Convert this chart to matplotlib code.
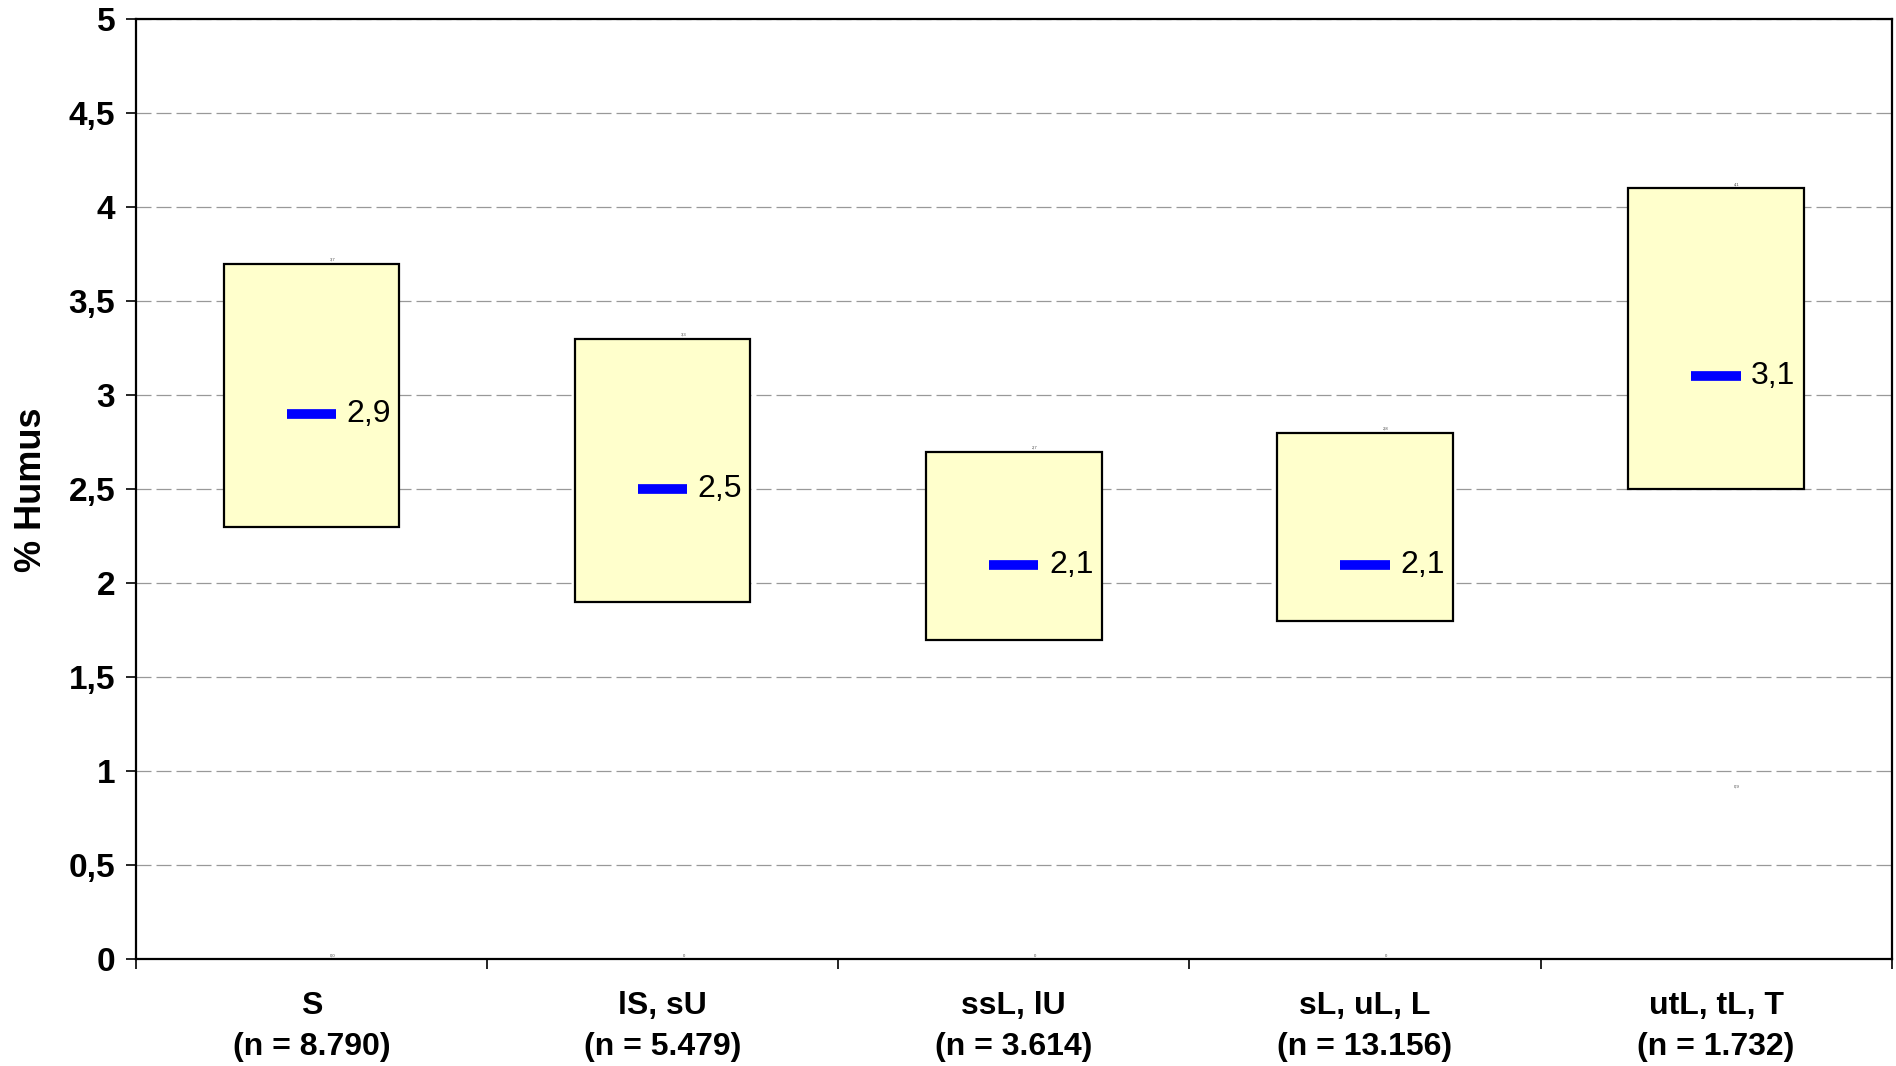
import numpy as np
import matplotlib.pyplot as plt
from matplotlib.patches import Rectangle

plt.rcParams['font.family'] = ['Liberation Sans', 'DejaVu Sans']

categories = ["S\n(n = 8.790)", "lS, sU\n(n = 5.479)", "ssL, lU\n(n = 3.614)",
              "sL, uL, L\n(n = 13.156)", "utL, tL, T\n(n = 1.732)"]
box_low = [2.3, 1.9, 1.7, 1.8, 2.5]
box_high = [3.7, 3.3, 2.7, 2.8, 4.1]
median = [2.9, 2.5, 2.1, 2.1, 3.1]
median_labels = ["2,9", "2,5", "2,1", "2,1", "3,1"]
high_labels = ["3,7", "3,3", "2,7", "2,8", "4,1"]
min_values = [0.0, 0.0, 0.0, 0.0, 0.9]
min_labels = ["0,0", "0", "0", "0", "0,9"]
yticks = [0, 0.5, 1, 1.5, 2, 2.5, 3, 3.5, 4, 4.5, 5]
ytick_labels = ["0", "0,5", "1", "1,5", "2", "2,5", "3", "3,5", "4", "4,5", "5"]

fig = plt.figure(figsize=(18.96, 10.66), dpi=100)
ax = fig.add_axes([0.0717, 0.100, 0.926, 0.882])

x = np.arange(len(categories))
box_w = 0.5
med_w = 0.14

for xi, lo, hi, md, ml, hl, mv, mnl in zip(x, box_low, box_high, median, median_labels,
                                            high_labels, min_values, min_labels):
    ax.add_patch(Rectangle((xi - box_w / 2, lo), box_w, hi - lo, facecolor="#FFFFCC",
                           edgecolor="black", linewidth=1.6, zorder=3))
    ax.hlines(md, xi - med_w / 2, xi + med_w / 2, colors="#0000FF", linewidth=7, zorder=4)
    ax.text(xi + med_w / 2 + 0.03, md, ml, fontsize=23, va="center", ha="left", zorder=5)
    ax.text(xi + 0.06, hi + 0.01, hl, fontsize=3, ha="center", va="bottom", color="#444444")
    ax.text(xi + 0.06, mv + 0.01, mnl, fontsize=3, ha="center", va="bottom", color="#444444")

ax.set_xlim(-0.5, len(categories) - 0.5)
ax.set_ylim(0, 5)
ax.set_yticks(yticks)
ax.set_yticklabels(ytick_labels, fontsize=24, fontweight="bold")
ax.set_xticks(x)
ax.set_xticklabels(categories, fontsize=23, fontweight="bold", linespacing=1.45)
ax.set_xticks(np.arange(-0.5, len(categories)), minor=True)
ax.tick_params(axis="x", which="major", length=0, pad=23)
ax.tick_params(axis="x", which="minor", length=7, width=1.2, direction="out")
ax.tick_params(axis="y", length=7, width=1.2, direction="out", pad=8)

ax.yaxis.grid(True, color="#999999", linestyle=(0, (12, 4)), linewidth=0.9)
ax.set_axisbelow(True)
for sp in ax.spines.values():
    sp.set_linewidth(1.6)
    sp.set_color("black")

ax.set_ylabel("% Humus", fontsize=26, fontweight="bold", labelpad=14)

fig.savefig("out.png", dpi=100)
